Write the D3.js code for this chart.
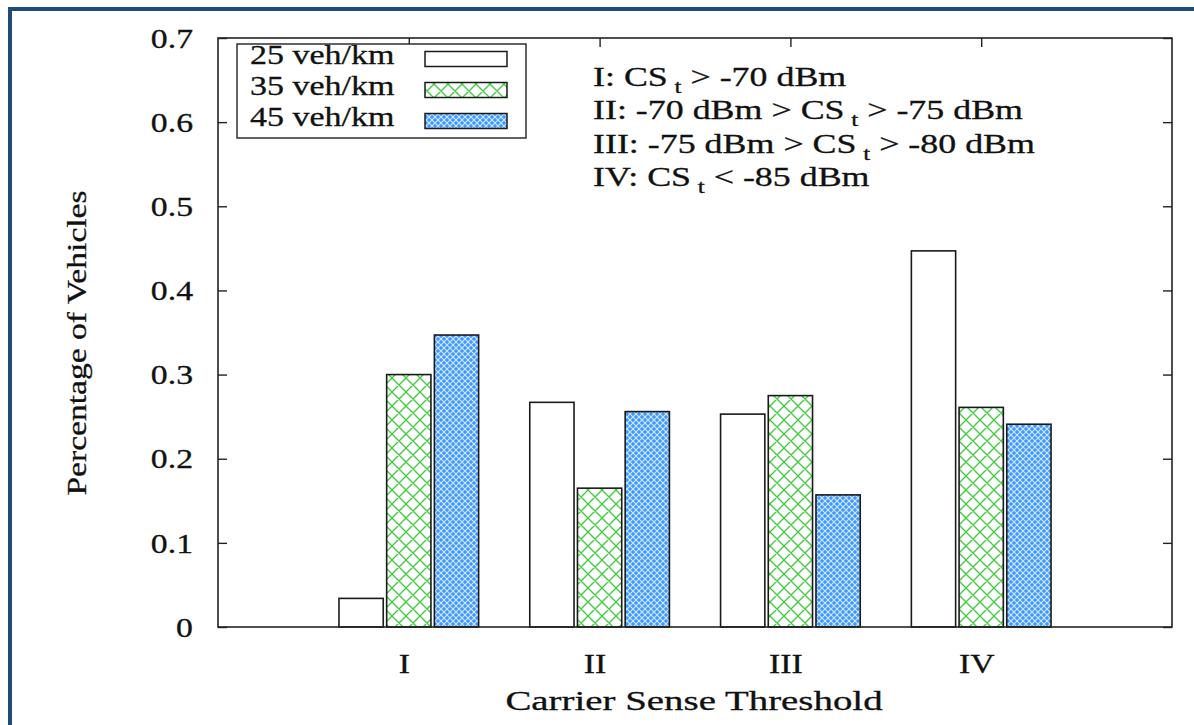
<!DOCTYPE html>
<html>
<head>
<meta charset="utf-8">
<script src="https://cdn.jsdelivr.net/npm/d3@7"></script>
<style>
  body { margin: 0; background: #fff; }
  text { font-family: "Liberation Serif", "DejaVu Serif", serif; fill: #111; stroke: #111; stroke-width: 0.3px; }
</style>
</head>
<body>
<div class="chart"></div>
<script>
// Data
const categories = ['I', 'II', 'III', 'IV']
const seriesNames = ['25 veh/km', '35 veh/km', '45 veh/km']
const density25 = [0.034, 0.267, 0.253, 0.447]
const density35 = [0.300, 0.165, 0.275, 0.261]
const density45 = [0.347, 0.256, 0.157, 0.241]
const yTickValues = [0, 0.1, 0.2, 0.3, 0.4, 0.5, 0.6, 0.7]
const noteLines = [
    ['I: CS', 't', ' > -70 dBm'],
    ['II: -70 dBm > CS', 't', ' > -75 dBm'],
    ['III: -75 dBm > CS', 't', ' > -80 dBm'],
    ['IV: CS', 't', ' < -85 dBm']
]

// Dimensions
const dimensions = {
    width: 1194,
    height: 725,
    left: 218,
    right: 1172,
    top: 38,
    bottom: 627
}

const svg = d3.select('.chart')
    .append('svg')
    .attr('width', dimensions.width)
    .attr('height', dimensions.height)

// fill patterns
const defs = svg.append('defs')
const green = defs.append('pattern')
    .attr('id', 'greenHatch')
    .attr('patternUnits', 'userSpaceOnUse')
    .attr('width', 14).attr('height', 14)
green.append('rect').attr('width', 14).attr('height', 14).attr('fill', '#fff')
green.append('path')
    .attr('d', 'M0,0L14,14M14,0L0,14M-7,7L0,14M7,-7L14,0M0,0L-7,7M14,14L21,7')
    .attr('stroke', '#3ccc3c').attr('stroke-width', 1.3).attr('fill', 'none')

const blue = defs.append('pattern')
    .attr('id', 'blueHatch')
    .attr('patternUnits', 'userSpaceOnUse')
    .attr('width', 6).attr('height', 6)
blue.append('rect').attr('width', 6).attr('height', 6).attr('fill', '#3d98ff')
blue.append('path')
    .attr('d', 'M0,0L6,6M6,0L0,6')
    .attr('stroke', '#d4e9ff').attr('stroke-width', 1.1).attr('fill', 'none')

const fills = ['#fff', 'url(#greenHatch)', 'url(#blueHatch)']

// page frame
svg.append('line')
    .attr('x1', 8).attr('x2', dimensions.width).attr('y1', 9).attr('y2', 9)
    .attr('stroke', '#1f4b7c').attr('stroke-width', 4)
svg.append('line')
    .attr('x1', 10).attr('x2', 10).attr('y1', 7).attr('y2', dimensions.height)
    .attr('stroke', '#1f4b7c').attr('stroke-width', 4)

// Scales
const xScale = d3.scaleLinear()
    .domain([0, 5])
    .range([dimensions.left, dimensions.right])

const yScale = d3.scaleLinear()
    .domain([0, 0.7])
    .range([dimensions.bottom, dimensions.top])

// Axes (ticks point inward like gnuplot, mirrored on top / right)
const tickLen = 9
const xAxisGroup = svg.append('g')
    .attr('transform', `translate(0, ${dimensions.bottom})`)
    .call(d3.axisBottom(xScale)
        .tickValues([1, 2, 3, 4])
        .tickFormat(d => categories[d - 1])
        .tickSize(-tickLen))
const yAxisGroup = svg.append('g')
    .attr('transform', `translate(${dimensions.left}, 0)`)
    .call(d3.axisLeft(yScale)
        .tickValues(yTickValues)
        .tickFormat(d => d === 0 ? '0' : d.toFixed(1))
        .tickSize(-tickLen))
svg.append('g')
    .attr('transform', `translate(0, ${dimensions.top})`)
    .call(d3.axisTop(xScale).tickValues([1, 2, 3, 4]).tickFormat('').tickSize(-tickLen))
svg.append('g')
    .attr('transform', `translate(${dimensions.right}, 0)`)
    .call(d3.axisRight(yScale).tickValues(yTickValues).tickFormat('').tickSize(-tickLen))

svg.selectAll('.domain').remove()
svg.selectAll('.tick line').attr('stroke', '#222').attr('stroke-width', 1.4)

// tick labels: gnuplot's serif is wider than Liberation Serif, so stretch it a bit
yAxisGroup.selectAll('.tick text')
    .attr('x', null).attr('dy', '0.34em')
    .attr('transform', 'translate(-25, 0) scale(1.25, 1)')
    .style('font-size', '27px').style('font-family', null)
xAxisGroup.selectAll('.tick text')
    .attr('y', null).attr('dy', null)
    .attr('transform', 'translate(-5, 46) scale(1.25, 1)')
    .style('font-size', '27px').style('font-family', null)

// Bars
const barSeries = [density25, density35, density45]
const offsets = [-0.25, 0, 0.25]
const barWidth = 0.232

barSeries.forEach((values, s) => {
    svg.append('g')
        .selectAll('rect')
        .data(values)
        .join('rect')
        .attr('x', (d, i) => xScale(i + 1 + offsets[s] - barWidth / 2))
        .attr('width', xScale(barWidth) - xScale(0))
        .attr('y', d => yScale(d))
        .attr('height', d => yScale(0) - yScale(d))
        .attr('fill', fills[s])
        .attr('stroke', '#1a1a1a')
        .attr('stroke-width', 1.6)
})

// plot border
svg.append('rect')
    .attr('x', dimensions.left).attr('y', dimensions.top)
    .attr('width', dimensions.right - dimensions.left)
    .attr('height', dimensions.bottom - dimensions.top)
    .attr('fill', 'none').attr('stroke', '#222').attr('stroke-width', 1.6)

// Axis titles
svg.append('text')
    .attr('transform', 'translate(694, 710) scale(1.44, 1)')
    .attr('text-anchor', 'middle')
    .style('font-size', '27px')
    .text('Carrier Sense Threshold')
svg.append('text')
    .attr('transform', 'translate(86, 343) rotate(-90) scale(1.2, 1)')
    .attr('text-anchor', 'middle')
    .style('font-size', '28px')
    .text('Percentage of Vehicles')

// Legend
const legend = svg.append('g')
legend.append('rect')
    .attr('x', 237).attr('y', 44).attr('width', 289).attr('height', 94)
    .attr('fill', '#fff').attr('stroke', '#222').attr('stroke-width', 1.4)
seriesNames.forEach((name, i) => {
    const rowY = 59 + i * 31
    legend.append('text')
        .attr('transform', `translate(250, ${rowY + 5}) scale(1.26, 1)`)
        .style('font-size', '27px')
        .text(name)
    legend.append('rect')
        .attr('x', 425).attr('y', rowY - 7.5).attr('width', 82).attr('height', 15)
        .attr('fill', fills[i]).attr('stroke', '#1a1a1a').attr('stroke-width', 1.5)
})

// Threshold notes
noteLines.forEach((parts, i) => {
    const t = svg.append('text')
        .attr('transform', `translate(593, ${86 + i * 33.3}) scale(1.33, 1)`)
        .style('font-size', '27px')
    t.append('tspan').text(parts[0])
    t.append('tspan').attr('dx', 5).attr('dy', 7).style('font-size', '19px').text(parts[1])
    t.append('tspan').attr('dy', -7).text(parts[2])
})
</script>
</body>
</html>
